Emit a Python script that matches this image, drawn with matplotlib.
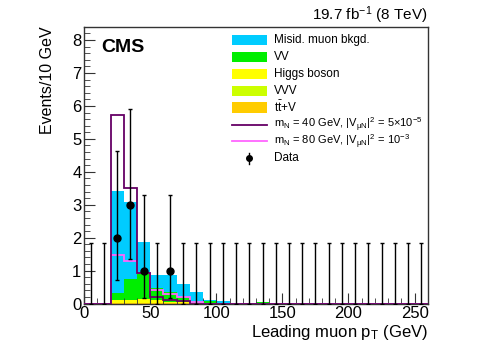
import numpy as np
import matplotlib
matplotlib.use('Agg')
import matplotlib.pyplot as plt
from matplotlib.patches import Rectangle
from matplotlib.lines import Line2D
from matplotlib.ticker import MultipleLocator

plt.rcParams['font.family'] = ['Liberation Sans', 'DejaVu Sans']
plt.rcParams['mathtext.fontset'] = 'custom'
plt.rcParams['mathtext.rm'] = 'Liberation Sans'
plt.rcParams['mathtext.it'] = 'Liberation Sans:italic'
plt.rcParams['mathtext.bf'] = 'Liberation Sans:bold'

# 10 GeV bins, 0 - 260 GeV
edges = np.arange(0, 270, 10)
centers = edges[:-1] + 5

#            0     10    20    30    40    50    60    70    80    90    100   110   120   130
misid = [0.00, 0.00, 3.10, 2.33, 0.96, 0.40, 0.52, 0.41, 0.30, 0.04, 0.06, 0.00, 0.00, 0.00] + [0.0] * 12
vv    = [0.00, 0.00, 0.23, 0.63, 0.78, 0.35, 0.30, 0.15, 0.05, 0.07, 0.01, 0.00, 0.00, 0.05] + [0.0] * 12
higgs = [0.00, 0.00, 0.08, 0.09, 0.10, 0.08, 0.04, 0.03, 0.01, 0.00, 0.00, 0.00, 0.00, 0.00] + [0.0] * 12
vvv   = [0.00, 0.00, 0.005, 0.01, 0.01, 0.01, 0.005, 0.005, 0.0, 0.0, 0.0, 0.0, 0.0, 0.0] + [0.0] * 12
ttv   = [0.00, 0.00, 0.01, 0.02, 0.02, 0.02, 0.01, 0.01, 0.00, 0.00, 0.00, 0.00, 0.00, 0.00] + [0.0] * 12

sig40 = [0.00, 0.00, 5.73, 3.50, 0.93, 0.20, 0.10, 0.07] + [0.0] * 18
sig80 = [0.00, 0.00, 1.47, 1.30, 0.93, 0.40, 0.30, 0.20, 0.05] + [0.0] * 17

data   = [0, 0, 2, 3, 1, 0, 1] + [0] * 19
# Poisson (Garwood) intervals for n = 0, 1, 2, 3
err_lo = {0: 0.0, 1: 0.827, 2: 1.292, 3: 1.633}
err_hi = {0: 1.841, 1: 2.300, 2: 2.638, 3: 2.918}

c_misid, c_vv, c_higgs, c_vvv, c_ttv = '#00ccff', '#00ee00', '#ffff00', '#ccff00', '#ffcc00'
c_s40, c_s80 = '#660066', '#ff66ff'

fig = plt.figure(figsize=(4.98, 3.58), dpi=100)
ax = fig.add_axes([0.169, 0.152, 0.690, 0.773])

# stacked backgrounds, bottom to top
stack = [(ttv, c_ttv), (vvv, c_vvv), (higgs, c_higgs), (vv, c_vv), (misid, c_misid)]
bottom = np.zeros(len(centers))
for vals, col in stack:
    ax.bar(edges[:-1], vals, width=10, bottom=bottom, align='edge',
           color=col, linewidth=0, zorder=1)
    bottom = bottom + np.array(vals)

ax.stairs(sig80, edges, color=c_s80, lw=1.3, zorder=3)
ax.stairs(sig40, edges, color=c_s40, lw=1.3, zorder=3)

lo = [err_lo[n] for n in data]
hi = [err_hi[n] for n in data]
ax.errorbar(centers, data, yerr=[lo, hi], fmt='none', ecolor='black',
            elinewidth=1.0, capsize=1.5, capthick=1.0, zorder=4)
nz = [i for i, n in enumerate(data) if n > 0]
ax.plot(centers[nz], [data[i] for i in nz], 'o', color='black', ms=5, zorder=5)

ax.set_xlim(0, 260)
ax.set_ylim(0, 8.4)
ax.xaxis.set_major_locator(MultipleLocator(50))
ax.xaxis.set_minor_locator(MultipleLocator(10))
ax.yaxis.set_major_locator(MultipleLocator(1))
ax.yaxis.set_minor_locator(MultipleLocator(0.2))
ax.tick_params(which='both', direction='in', top=False, right=False,
               labelsize=12, color='#333333', pad=2)
ax.tick_params(which='major', length=8)
ax.tick_params(which='minor', length=4)
for s in ax.spines.values():
    s.set_color('#333333')
    s.set_linewidth(1.0)

ax.set_xlabel(r'Leading muon p$_{\mathrm{T}}$ (GeV)', fontsize=12, loc='right', labelpad=1)
ax.set_ylabel('Events/10 GeV', fontsize=11.5, loc='top', labelpad=12)

ax.text(0.05, 0.925, 'CMS', transform=ax.transAxes, fontsize=14,
        fontweight='bold', va='center', ha='left')
ax.text(1.0, 1.023, r'19.7 fb$^{-1}$ (8 TeV)', transform=ax.transAxes,
        fontsize=11, ha='right', va='baseline')

# legend, drawn row by row in axes coordinates
labels = ['Misid. muon bkgd.', 'VV', 'Higgs boson', 'VVV', r't$\mathrm{\bar{t}}$+V',
          r'm$_{\mathrm{N}}$ = 40 GeV, |V$_{\mathrm{\mu N}}$|$^{2}$ = 5×10$^{-5}$',
          r'm$_{\mathrm{N}}$ = 80 GeV, |V$_{\mathrm{\mu N}}$|$^{2}$ = 10$^{-3}$',
          'Data']
sizes = [8.5, 8.5, 8.5, 8.5, 8.5, 8.0, 8.0, 8.5]
kinds = [('box', c_misid), ('box', c_vv), ('box', c_higgs), ('box', c_vvv), ('box', c_ttv),
         ('line', c_s40), ('line', c_s80), ('data', 'black')]
x0, x1, xt = 0.429, 0.531, 0.552
for i, (lab, fs, (kind, col)) in enumerate(zip(labels, sizes, kinds)):
    y = 0.952 - i * 0.0610
    if kind == 'box':
        ax.add_patch(Rectangle((x0, y - 0.019), x1 - x0, 0.038, color=col, lw=0,
                               transform=ax.transAxes, zorder=6))
    elif kind == 'line':
        ax.add_line(Line2D([x0, x1], [y, y], color=col, lw=1.3, transform=ax.transAxes, zorder=6))
    else:
        xm = 0.5 * (x0 + x1)
        ax.add_line(Line2D([xm, xm], [y - 0.02, y + 0.02], color=col, lw=1.0,
                           transform=ax.transAxes, zorder=6))
        ax.add_line(Line2D([xm], [y], color=col, marker='o', ms=4, lw=0,
                           transform=ax.transAxes, zorder=7))
    ax.text(xt, y, lab, transform=ax.transAxes, fontsize=fs, va='center', ha='left', zorder=7)

fig.savefig('out.png', dpi=100)
